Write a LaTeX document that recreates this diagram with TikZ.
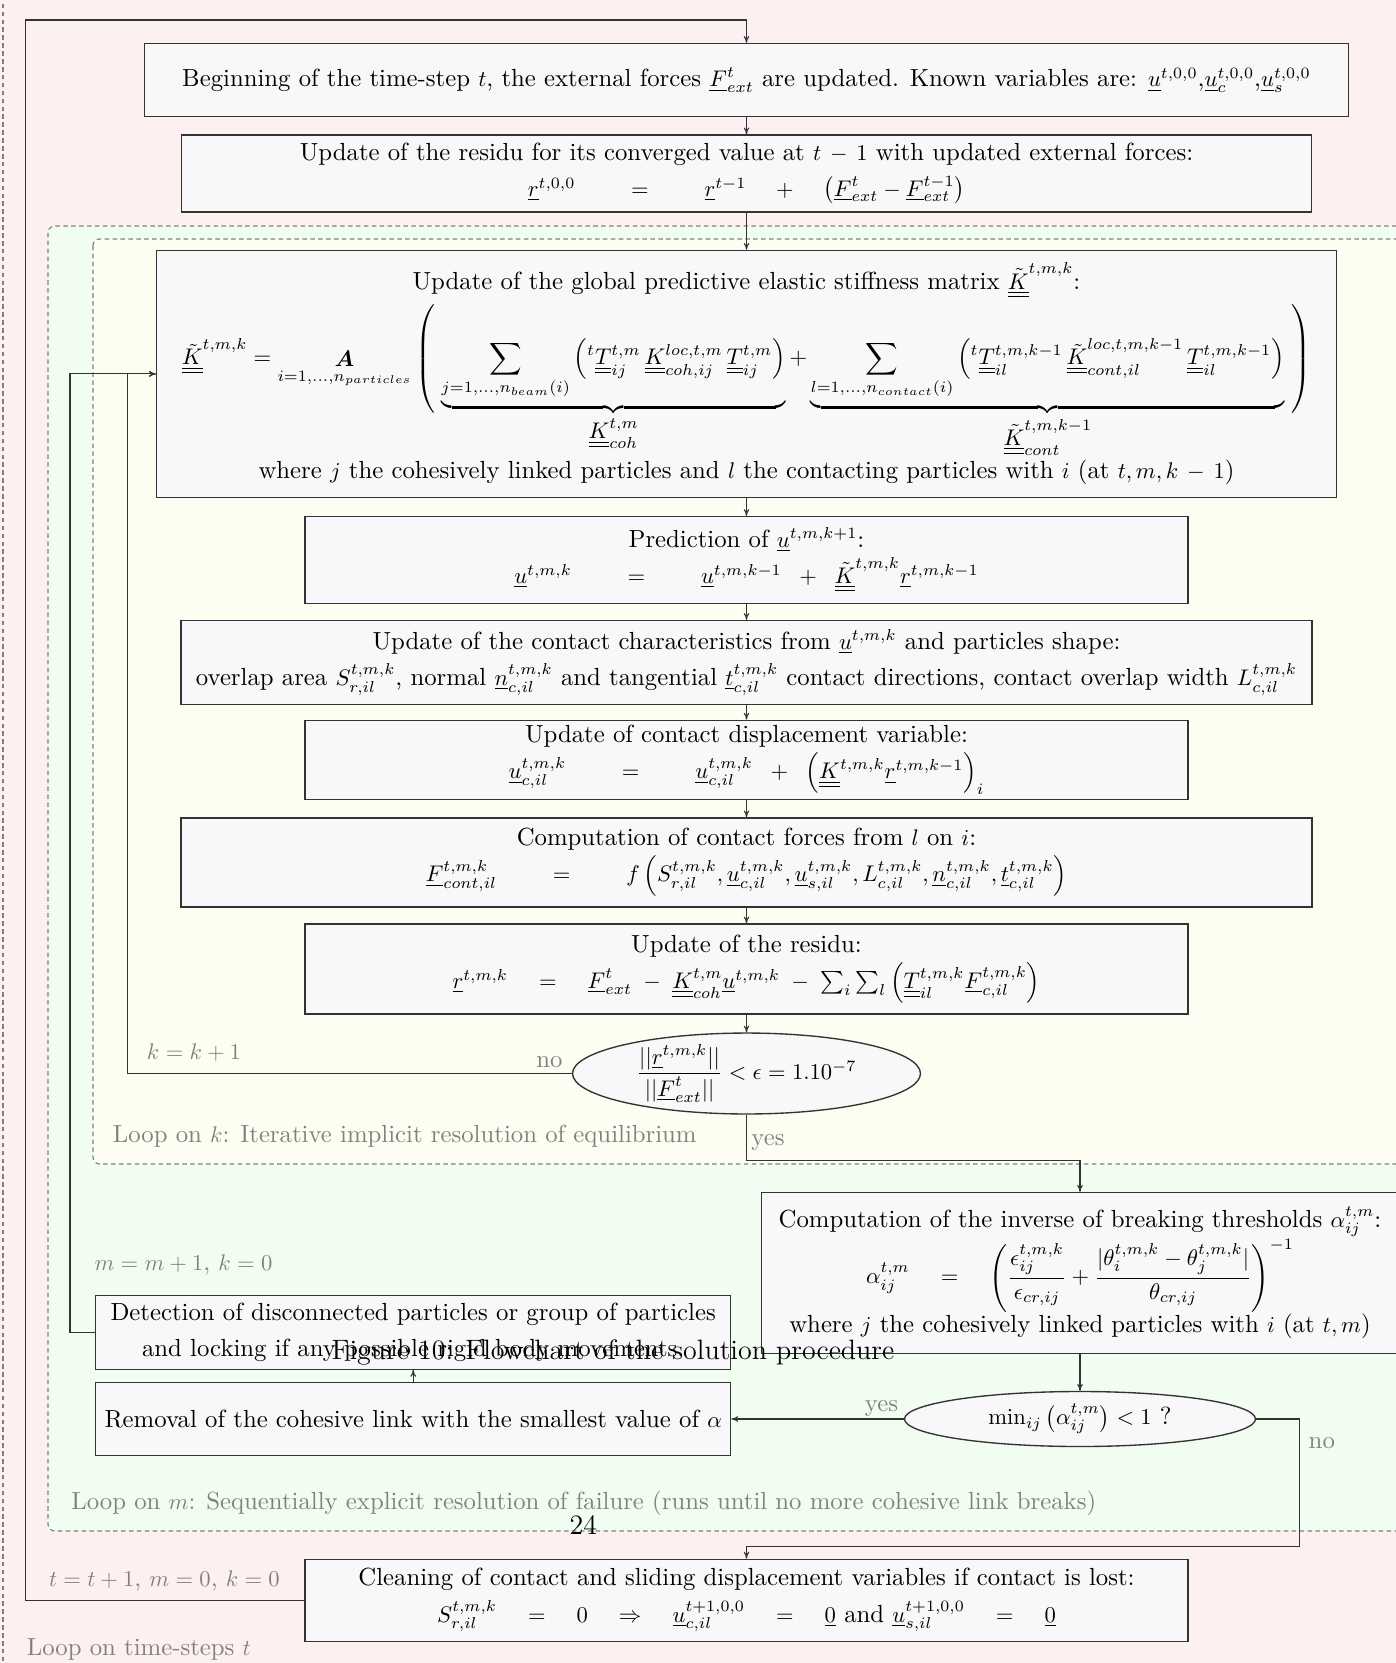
\documentclass[tikz,border=0pt]{standalone}
\usepackage{amsmath,amssymb,bm}
\usetikzlibrary{arrows.meta,shapes.geometric,calc}
\DeclareMathSizes{10.95}{10}{7}{5}
\def\pxu{0.4425pt}
\definecolor{pinkbg}{RGB}{253,240,240}
\definecolor{greenbg}{RGB}{241,253,241}
\definecolor{yellowbg}{RGB}{253,253,241}
\definecolor{boxfill}{RGB}{248,248,250}
\newcommand{\uu}[1]{\underline{\underline{#1}}}
\newcommand{\ul}[1]{\underline{#1}}
\newcommand{\txtfont}{\fontsize{10.95}{16}\selectfont}
\newcommand{\bigstrut}{\rule[-22pt]{0pt}{27pt}}
\begin{document}
\begin{tikzpicture}[x=0.4425pt,y=-0.4425pt,
  every node/.append style={font=\txtfont},
  box/.style={draw=black!80, fill=boxfill, align=center, inner sep=0pt, line width=0.6pt},
  oval/.style={ellipse, draw=black!80, fill=boxfill, align=center, inner sep=0pt, line width=0.6pt},
  conn/.style={draw=black!80, line width=0.5pt, -{To[length=3pt,width=2.5pt]}},
  lbl/.style={text=gray, inner sep=0pt},
  region/.style={draw=gray, dash pattern=on 2pt off 1.5pt, line width=0.5pt, rounded corners=3pt}]
\useasboundingbox (0,0) rectangle (1396,1663);
\fill[pinkbg] (0,0) rectangle (1396,1663);
\draw[region] (3,-20) -- (3,1700);
\filldraw[region, fill=greenbg] (48,226) rectangle (1450,1531);
\filldraw[region, fill=yellowbg] (93,239) rectangle (1450,1164);

% boxes
\node[box, minimum width=1204*\pxu, minimum height=73*\pxu] (b1) at (746.5,80)
  {Beginning of the time-step $t$, the external forces $\ul{F}^t_{ext}$ are updated. Known variables are: $\ul{u}^{t,0,0}$,$\ul{u}_c^{t,0,0}$,$\ul{u}_s^{t,0,0}$};
\node[box, minimum width=1130*\pxu, minimum height=77*\pxu] (b2) at (746.5,173.4)
  {Update of the residu for its converged value at $t\,-\,1$ with updated external forces:\\
   $\ul{r}^{t,0,0} \qquad = \qquad \ul{r}^{t-1} \quad + \quad \left(\ul{F}^t_{ext} - \ul{F}^{t-1}_{ext}\right)$};
\node[box, minimum width=1180*\pxu, minimum height=247*\pxu] (b3) at (746.5,373.9)
  {Update of the global predictive elastic stiffness matrix $\uu{\tilde K}^{t,m,k}$:\\[2pt]
   $\displaystyle \uu{\tilde K}^{t,m,k} = \mathop{\bm{A}}\limits_{i=1,\ldots,n_{particles}}
   \left(\bigstrut\right.\underbrace{\sum_{j=1,\ldots,n_{beam}(i)} \left( {}^{t}\uu{T}^{t,m}_{ij}\, \uu{K}^{loc,t,m}_{coh,ij}\, \uu{T}^{t,m}_{ij}\right)}_{\displaystyle\uu{K}^{t,m}_{coh}}
   + \underbrace{\sum_{l=1,\ldots,n_{contact}(i)} \left({}^{t}\uu{T}^{t,m,k-1}_{il}\, \uu{\tilde K}^{loc,t,m,k-1}_{cont,il}\, \uu{T}^{t,m,k-1}_{il}\right)}_{\displaystyle\uu{\tilde K}^{t,m,k-1}_{cont}}\left.\bigstrut\right)$\\
   where $j$ the cohesively linked particles and $l$ the contacting particles with $i$ (at $t,m,k\,-\,1$)};
\node[box, minimum width=883*\pxu, minimum height=87*\pxu] (b4) at (746.5,560.1)
  {Prediction of $\ul{u}^{t,m,k+1}$:\\
   $\ul{u}^{t,m,k} \qquad = \qquad \ul{u}^{t,m,k-1} \;\; + \;\; \uu{\tilde K}^{t,m,k}\ul{r}^{t,m,k-1}$};
\node[box, minimum width=1131*\pxu, minimum height=84*\pxu] (b5) at (746.5,662.5)
  {Update of the contact characteristics from $\ul{u}^{t,m,k}$ and particles shape:\\
   overlap area $S^{t,m,k}_{r,il}$, normal $\ul{n}^{t,m,k}_{c,il}$ and tangential $\ul{t}^{t,m,k}_{c,il}$ contact directions, contact overlap width $L^{t,m,k}_{c,il}$};
\node[box, minimum width=883*\pxu, minimum height=79.5*\pxu] (b6) at (746.5,760)
  {Update of contact displacement variable:\\
   $\ul{u}^{t,m,k}_{c,il} \qquad = \qquad \ul{u}^{t,m,k}_{c,il} \;\; + \;\; \left(\uu{K}^{t,m,k}\ul{r}^{t,m,k-1}\right)_i$};
\node[box, minimum width=1131*\pxu, minimum height=89*\pxu] (b7) at (746.5,862.4)
  {Computation of contact forces from $l$ on $i$:\\
   $\ul{F}^{t,m,k}_{cont,il} \qquad = \qquad f\left(S^{t,m,k}_{r,il}, \ul{u}^{t,m,k}_{c,il}, \ul{u}^{t,m,k}_{s,il}, L^{t,m,k}_{c,il}, \ul{n}^{t,m,k}_{c,il}, \ul{t}^{t,m,k}_{c,il}\right)$};
\node[box, minimum width=883*\pxu, minimum height=90*\pxu] (b8) at (746.5,969)
  {Update of the residu:\\
   $\ul{r}^{t,m,k} \quad = \quad \ul{F}^t_{ext} \;-\; \uu{K}^{t,m}_{coh}\ul{u}^{t,m,k} \;-\; \sum_i\sum_l \left(\uu{T}^{t,m,k}_{il}\ul{F}^{t,m,k}_{c,il}\right)$};
\node[oval, minimum width=348*\pxu, minimum height=80*\pxu] (e1) at (746.5,1073.5)
  {$\dfrac{||\ul{r}^{t,m,k}||}{||\ul{F}^t_{ext}||} < \epsilon = 1.10^{-7}$};
\node[box, minimum width=637*\pxu, minimum height=161*\pxu] (b9) at (1080,1273)
  {Computation of the inverse of breaking thresholds $\alpha^{t,m}_{ij}$:\\
   $\alpha^{t,m}_{ij} \quad = \quad \left(\dfrac{\epsilon^{t,m,k}_{ij}}{\epsilon_{cr,ij}} + \dfrac{|\theta^{t,m,k}_i - \theta^{t,m,k}_j|}{\theta_{cr,ij}}\right)^{-1}$\\
   where $j$ the cohesively linked particles with $i$ (at $t,m$)};
\node[oval, minimum width=351*\pxu, minimum height=55*\pxu] (e2) at (1080,1419)
  {$\min_{ij}\left(\alpha^{t,m}_{ij}\right) < 1$ ?};
\node[box, minimum width=635*\pxu, minimum height=73*\pxu] (b10) at (413.2,1419)
  {Removal of the cohesive link with the smallest value of $\alpha$};
\node[box, minimum width=635*\pxu, minimum height=74*\pxu] (b11) at (413.2,1332.3)
  {Detection of disconnected particles or group of particles\\ and locking if any possible rigid body movements.};
\node[box, minimum width=883*\pxu, minimum height=82*\pxu] (b12) at (746.5,1600.2)
  {Cleaning of contact and sliding displacement variables if contact is lost:\\
   $S^{t,m,k}_{r,il} \quad = \quad 0 \quad \Rightarrow \quad \ul{u}^{t+1,0,0}_{c,il} \quad = \quad \ul{0}$ and $\ul{u}^{t+1,0,0}_{s,il} \quad = \quad \ul{0}$};

% helper coordinates
\coordinate (tx) at (25.5,20);
\coordinate (kx) at (127.3,0);
\coordinate (mx) at (70,0);
\coordinate (yy) at (0,1160.5);
\coordinate (nc) at (1299.5,1546.7);

% connectors
\draw[conn] (b12.west) -| (tx) -| (b1.north);
\draw[conn] (b1.south) -- (b2.north);
\draw[conn] (b2.south) -- (b3.north);
\draw[conn] (b3.south) -- (b4.north);
\draw[conn] (b4.south) -- (b5.north);
\draw[conn] (b5.south) -- (b6.north);
\draw[conn] (b6.south) -- (b7.north);
\draw[conn] (b7.south) -- (b8.north);
\draw[conn] (b8.south) -- (e1.north);
\draw[conn] (e1.west) -| (b3.west -| kx) -- (b3.west);
\draw[conn] (b11.west) -| (b3.west -| mx) -- (b3.west);
\draw[conn] (e1.south) -- (e1.south |- yy) -| (b9.north);
\draw[conn] (b9.south) -- (e2.north);
\draw[conn] (e2.west) -- (b10.east);
\draw[conn] (b10.north) -- (b11.south);
\draw[conn] (e2.east) -| (nc) -| (b12.north);

% labels
\node[lbl] at (194,1053) {$k=k+1$};
\node[lbl] at (549.5,1062) {no};
\node[lbl, anchor=west] at (112.4,1136) {Loop on $k$: Iterative implicit resolution of equilibrium};
\node[lbl] at (768,1142) {yes};
\node[lbl] at (183.5,1265.5) {$m=m+1$, $k=0$};
\node[lbl] at (881.5,1408) {yes};
\node[lbl] at (1321.8,1443) {no};
\node[lbl, anchor=west] at (71,1503) {Loop on $m$: Sequentially explicit resolution of failure (runs until no more cohesive link breaks)};
\node[lbl] at (164.4,1580.6) {$t=t+1$, $m=0$, $k=0$};
\node[lbl, anchor=west] at (26.5,1649.6) {Loop on time-steps $t$};

% page artefacts
\node[inner sep=0pt, font=\fontsize{12.4}{15}\selectfont] (cap) at (613,1352.5) {Figure 10: Flowchart of the solution procedure};
\node[inner sep=0pt, font=\fontsize{12.4}{15}\selectfont] (pg) at (583.4,1525.5) {24};
\end{tikzpicture}
\end{document}
